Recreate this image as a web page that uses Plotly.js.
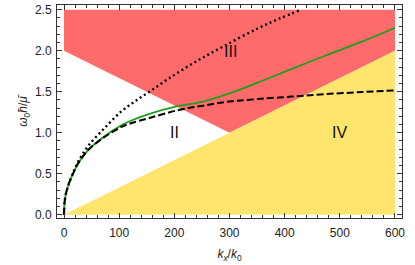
<!DOCTYPE html>
<html>
<head>
<meta charset="utf-8">
<script src="https://cdn.plot.ly/plotly-3.0.1.min.js"></script>
<style>html,body{margin:0;padding:0;background:#fff;}#chart{width:415px;height:265px;}</style>
</head>
<body>
<div id="chart"></div>
<script>
// Region III (red) boundary vertices
var regionIII_x = [0, 0, 300, 600, 600, 0];
var regionIII_y = [2.5, 2.0, 1.0, 2.0, 2.5, 2.5];
// Region IV (yellow) boundary vertices
var regionIV_x = [0, 600, 600, 0];
var regionIV_y = [0, 0, 2.0, 0];

// Dashed black curve
var dashed_x = [0, 1, 4, 10, 17, 26, 44, 74, 104, 119, 155, 210, 252, 300, 351, 412, 472, 540, 600];
var dashed_y = [0, 0.15, 0.27, 0.40, 0.51, 0.63, 0.79, 0.95, 1.07, 1.11, 1.18, 1.28, 1.33, 1.38, 1.41, 1.44, 1.47, 1.495, 1.515];
// Green solid curve
var green_x = [0, 1, 4, 10, 17, 26, 44, 74, 104, 119, 155, 204, 252, 300, 351, 412, 472, 540, 600];
var green_y = [0, 0.15, 0.27, 0.40, 0.51, 0.63, 0.79, 0.96, 1.09, 1.14, 1.23, 1.32, 1.38, 1.48, 1.61, 1.775, 1.935, 2.11, 2.28];
// Dotted black curve
var dotted_x = [0, 1, 4, 10, 17, 26, 44, 74, 104, 128, 155, 192, 240, 291, 351, 390, 430];
var dotted_y = [0, 0.15, 0.27, 0.40, 0.52, 0.65, 0.84, 1.06, 1.26, 1.38, 1.50, 1.67, 1.87, 2.06, 2.27, 2.39, 2.50];

// Region labels
var label_text = ["III", "II", "IV"];
var label_x = [301, 201, 500];
var label_y = [1.99, 1.0, 1.0];

var traces = [
  {x: regionIII_x, y: regionIII_y, type: 'scatter', mode: 'lines', fill: 'toself',
   fillcolor: '#FF6B6B', line: {width: 0, color: 'rgba(0,0,0,0)'}, hoverinfo: 'skip'},
  {x: regionIV_x, y: regionIV_y, type: 'scatter', mode: 'lines', fill: 'toself',
   fillcolor: '#FFE46E', line: {width: 0, color: 'rgba(0,0,0,0)'}, hoverinfo: 'skip'},
  {x: dotted_x, y: dotted_y, type: 'scatter', mode: 'lines',
   line: {color: '#000', width: 2.4, dash: '2px,3px', shape: 'spline', smoothing: 1}},
  {x: green_x, y: green_y, type: 'scatter', mode: 'lines',
   line: {color: '#1E9E1E', width: 1.8, shape: 'spline', smoothing: 1}},
  {x: dashed_x, y: dashed_y, type: 'scatter', mode: 'lines',
   line: {color: '#000', width: 2, dash: '7px,3px', shape: 'spline', smoothing: 1}}
];

var annotations = label_text.map(function(t, i) {
  return {x: label_x[i], y: label_y[i], xref: 'x', yref: 'y', text: t, showarrow: false,
          font: {family: 'Liberation Sans, Arial, sans-serif', size: 16, color: '#111'}};
});

var axisCommon = {
  showline: true, linecolor: '#333', linewidth: 1, mirror: 'allticks',
  ticks: 'inside', ticklen: 5, tickwidth: 1, tickcolor: '#333',
  showgrid: false, zeroline: false,
  tickfont: {family: 'Liberation Sans, Arial, sans-serif', size: 12, color: '#222'}
};

var layout = {
  width: 415, height: 265,
  margin: {l: 57, r: 13, t: 5, b: 47},
  paper_bgcolor: '#fff', plot_bgcolor: '#fff',
  showlegend: false,
  xaxis: Object.assign({}, axisCommon, {
    range: [-12.7, 612.7], tickvals: [0, 100, 200, 300, 400, 500, 600],
    ticktext: ['0', '100', '200', '300', '400', '500', '600'],
    minor: {ticks: 'inside', ticklen: 3, dtick: 20, tick0: 0, tickcolor: '#333', showgrid: false},
    ticklabelstandoff: 4,
    title: {text: '<i>k</i><sub><i>x</i></sub>/<i>k</i><sub>0</sub>', standoff: 10,
            font: {family: 'Liberation Sans, Arial, sans-serif', size: 12, color: '#222'}}
  }),
  yaxis: Object.assign({}, axisCommon, {
    range: [-0.04, 2.557], tickvals: [0, 0.5, 1.0, 1.5, 2.0, 2.5],
    ticktext: ['0.0', '0.5', '1.0', '1.5', '2.0', '2.5'],
    minor: {ticks: 'inside', ticklen: 3, dtick: 0.1, tick0: 0, tickcolor: '#333', showgrid: false},
    ticklabelstandoff: 2,
    title: {text: '<i>ω</i><sub>0</sub><i>ħ</i>/<i>μ̄</i>', standoff: 4,
            font: {family: 'Liberation Sans, Arial, sans-serif', size: 12, color: '#222'}}
  }),
  annotations: annotations
};

Plotly.newPlot('chart', traces, layout, {displayModeBar: false, staticPlot: true});
</script>
</body>
</html>
